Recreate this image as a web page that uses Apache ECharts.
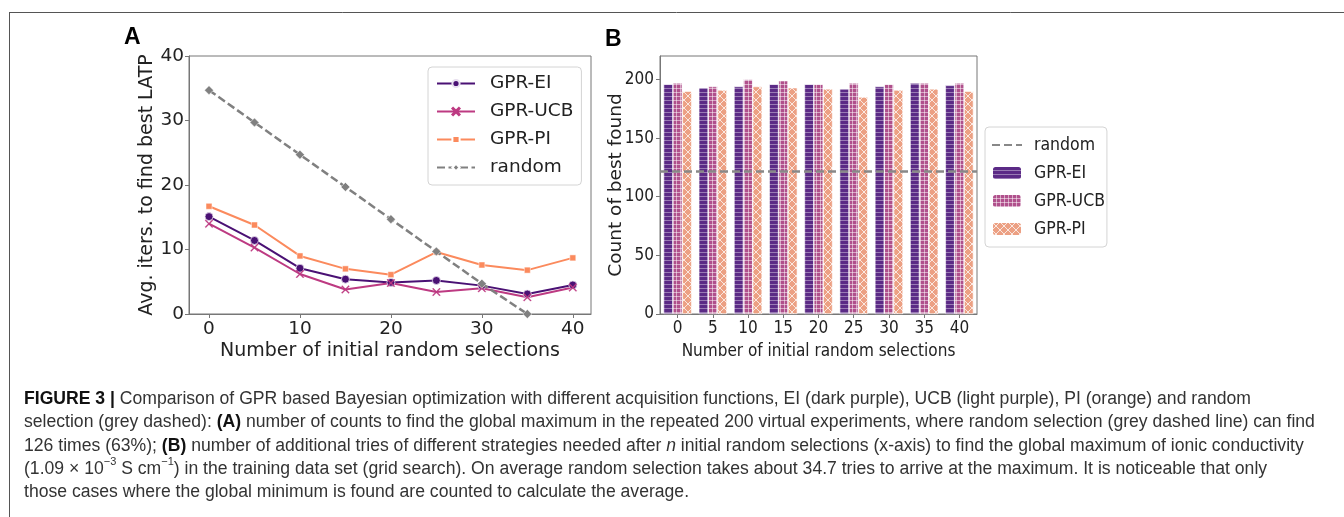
<!DOCTYPE html>
<html><head><meta charset="utf-8">
<script src="https://cdn.jsdelivr.net/npm/echarts@6/dist/echarts.min.js"></script>
<style>html,body{margin:0;padding:0;background:#fff}#c{width:1344px;height:517px}</style>
</head><body><div id="c"></div>
<script>
// ---------- data ----------
const xSelections = [0, 5, 10, 15, 20, 25, 30, 35, 40];
const avgEI     = [15.1, 11.4, 7.1, 5.4, 4.9, 5.2, 4.4, 3.1, 4.5];
const avgUCB    = [14.0, 10.3, 6.2, 3.8, 4.8, 3.4, 4.0, 2.6, 4.1];
const avgPI     = [16.7, 13.8, 9.0, 7.0, 6.1, 9.6, 7.6, 6.8, 8.7];
const avgRandom = [34.7, 29.7, 24.7, 19.7, 14.7, 9.7, 4.7, 0];
const xTicksA = [0, 10, 20, 30, 40];
const yTicksA = [0, 10, 20, 30, 40];

const countCategories = ['0', '5', '10', '15', '20', '25', '30', '35', '40'];
const countEI  = [196, 193, 194, 196, 196, 192, 194, 197, 195];
const countUCB = [197, 194, 200, 199, 196, 197, 196, 197, 197];
const countPI  = [190, 191, 194, 193, 192, 185, 191, 192, 190];
const randomCount = 122;
const yTicksB = [0, 50, 100, 150, 200];

const captionLines = [
  '{b|FIGURE 3 |} Comparison of GPR based Bayesian optimization with different acquisition functions, EI (dark purple), UCB (light purple), PI (orange) and random',
  'selection (grey dashed): {b|(A)} number of counts to find the global maximum in the repeated 200 virtual experiments, where random selection (grey dashed line) can find',
  '126 times (63%); {b|(B)} number of additional tries of different strategies needed after {i|n} initial random selections (x-axis) to find the global maximum of ionic conductivity',
  '(1.09 × 10{s|−3} S cm{s|−1}) in the training data set (grid search). On average random selection takes about 34.7 tries to arrive at the maximum. It is noticeable that only',
  'those cases where the global minimum is found are counted to calculate the average.'
];

// ---------- helpers ----------
function pair(xs, ys) { return ys.map((v, i) => [xs[i], v]); }
function makePattern(w, h, base, draw) {
  const c = document.createElement('canvas'); c.width = w; c.height = h;
  const g = c.getContext('2d'); g.fillStyle = base; g.fillRect(0, 0, w, h); draw(g);
  return { image: c, repeat: 'repeat' };
}
const patEI = makePattern(4, 4, '#5b2a86', g => { g.fillStyle = 'rgba(255,255,255,0.38)'; g.fillRect(0, 0, 4, 1); });
const patUCB = makePattern(4, 4, '#b0508c', g => { g.fillStyle = 'rgba(255,255,255,0.5)'; g.fillRect(0, 0, 4, 1); g.fillRect(0, 0, 1, 4); });
const patPI = makePattern(8, 8, '#eca083', g => {
  g.strokeStyle = 'rgba(255,255,255,0.75)'; g.lineWidth = 1;
  g.beginPath(); g.moveTo(0, 0); g.lineTo(8, 8); g.moveTo(8, 0); g.lineTo(0, 8); g.stroke();
});

const FONT = 'DejaVu Sans';
const FONTB = '"DejaVu Sans Condensed", "DejaVu Sans"';
const CAP = '"Liberation Sans", Arial, sans-serif';
const CAPSIZE = 17.6;
const xMark = 'path://M1,0 L5,4 L9,0 L10,1 L6,5 L10,9 L9,10 L5,6 L1,10 L0,9 L4,5 L0,1 Z';
const axisGrey = '#777';

const chart = echarts.init(document.getElementById('c'), null, { renderer: 'canvas' });

const captionGraphics = captionLines.map((t, i) => ({
  type: 'text', x: 24, y: 399 + i * 23.4, silent: true,
  style: {
    text: t, verticalAlign: 'middle', fill: '#333',
    font: CAPSIZE + 'px ' + CAP, lineHeight: 26,
    rich: {
      b: { fontWeight: 'bold', fontFamily: CAP, fontSize: CAPSIZE, fill: '#111', lineHeight: 26 },
      i: { fontStyle: 'italic', fontFamily: CAP, fontSize: CAPSIZE, fill: '#333', lineHeight: 26 },
      s: { fontFamily: CAP, fontSize: 11, fill: '#333', verticalAlign: 'top', lineHeight: 11 }
    }
  }
}));

chart.setOption({
  animation: false,
  backgroundColor: '#fff',
  grid: [
    { left: 189, top: 56, width: 402, height: 258, show: true, borderColor: axisGrey, borderWidth: 1, backgroundColor: 'transparent' },
    { left: 660, top: 56, width: 317, height: 258, show: true, borderColor: axisGrey, borderWidth: 1, backgroundColor: 'transparent' }
  ],
  xAxis: [
    {
      gridIndex: 0, type: 'value', min: -2.2, max: 42, position: 'bottom',
      axisLine: { show: true, onZero: false, lineStyle: { color: axisGrey } }, splitLine: { show: false },
      axisTick: { show: true, length: 4, lineStyle: { color: axisGrey }, customValues: xTicksA },
      axisLabel: { customValues: xTicksA, fontFamily: FONT, fontSize: 18.5, color: '#222', margin: 6 },
      name: 'Number of initial random selections', nameLocation: 'middle', nameGap: 28, nameMoveOverlap: false,
      nameTextStyle: { fontFamily: FONT, fontSize: 19, color: '#222' }
    },
    {
      gridIndex: 1, type: 'category', data: countCategories, boundaryGap: true, position: 'bottom',
      axisLine: { show: true, onZero: false, lineStyle: { color: axisGrey } }, splitLine: { show: false },
      axisTick: { show: true, alignWithLabel: true, length: 4, lineStyle: { color: axisGrey } },
      axisLabel: { fontFamily: FONTB, fontSize: 17, color: '#222', margin: 6 },
      name: 'Number of initial random selections', nameLocation: 'middle', nameGap: 29, nameMoveOverlap: false,
      nameTextStyle: { fontFamily: FONTB, fontSize: 17, color: '#222' }
    }
  ],
  yAxis: [
    {
      gridIndex: 0, type: 'value', min: 0, max: 40, interval: 10, position: 'left',
      axisLine: { show: true, onZero: false, lineStyle: { color: axisGrey } }, splitLine: { show: false },
      axisTick: { show: true, length: 4, lineStyle: { color: axisGrey }, customValues: yTicksA },
      axisLabel: { customValues: yTicksA, fontFamily: FONT, fontSize: 18.5, color: '#222', margin: 5 },
      name: 'Avg. iters. to find best LATP', nameLocation: 'middle', nameGap: 32, nameMoveOverlap: false,
      nameTextStyle: { fontFamily: FONT, fontSize: 19, color: '#222' }
    },
    {
      gridIndex: 1, type: 'value', min: 0, max: 220, position: 'left',
      axisLine: { show: true, onZero: false, lineStyle: { color: axisGrey } }, splitLine: { show: false },
      axisTick: { show: true, length: 4, lineStyle: { color: axisGrey }, customValues: yTicksB },
      axisLabel: { customValues: yTicksB, fontFamily: FONTB, fontSize: 17, color: '#222', margin: 6 },
      name: 'Count of best found', nameLocation: 'middle', nameGap: 34, nameMoveOverlap: false,
      nameTextStyle: { fontFamily: FONT, fontSize: 18.5, color: '#222' }
    }
  ],
  legend: [
    {
      data: ['GPR-EI', 'GPR-UCB', 'GPR-PI', 'random'], orient: 'vertical',
      left: 428, top: 67, padding: [7, 8, 8, 8], itemGap: 9, itemWidth: 38, itemHeight: 9,
      backgroundColor: 'rgba(255,255,255,0.85)', borderColor: '#d4d4d4', borderWidth: 1, borderRadius: 4,
      textStyle: { fontFamily: FONT, fontSize: 18.5, color: '#222', padding: [0, 0, 0, 10] },
      selectedMode: false
    },
    {
      data: [{ name: 'random (B)', itemStyle: { opacity: 0 } }, 'GPR-EI (B)', 'GPR-UCB (B)', 'GPR-PI (B)'], orient: 'vertical',
      left: 985, top: 127, padding: [9, 2, 9, 6], itemGap: 10, itemWidth: 30, itemHeight: 14,
      backgroundColor: '#fff', borderColor: '#d4d4d4', borderWidth: 1, borderRadius: 4,
      formatter: n => n.replace(' (B)', ''),
      textStyle: { fontFamily: FONTB, fontSize: 17.5, color: '#222', padding: [0, 0, 0, 7] },
      selectedMode: false
    }
  ],
  series: [
    {
      name: 'GPR-EI', type: 'line', xAxisIndex: 0, yAxisIndex: 0, data: pair(xSelections, avgEI),
      symbol: 'circle', symbolSize: 8, showAllSymbol: true,
      lineStyle: { color: '#4a1174', width: 2 }, itemStyle: { color: '#4a1174', borderColor: '#e8e0ef', borderWidth: 0.8 }
    },
    {
      name: 'GPR-UCB', type: 'line', xAxisIndex: 0, yAxisIndex: 0, data: pair(xSelections, avgUCB),
      symbol: xMark, symbolSize: 8, showAllSymbol: true,
      lineStyle: { color: '#bd3a82', width: 2 }, itemStyle: { color: '#bd3a82', borderColor: '#bd3a82', borderWidth: 0.3 }
    },
    {
      name: 'GPR-PI', type: 'line', xAxisIndex: 0, yAxisIndex: 0, data: pair(xSelections, avgPI),
      symbol: 'rect', symbolSize: 6, showAllSymbol: true,
      lineStyle: { color: '#fb8a5d', width: 2 }, itemStyle: { color: '#fb8a5d', borderColor: '#fff', borderWidth: 0.5 }
    },
    {
      name: 'random', type: 'line', xAxisIndex: 0, yAxisIndex: 0, data: pair(xSelections, avgRandom),
      symbol: 'diamond', symbolSize: 9, showAllSymbol: true, z: 5,
      lineStyle: { color: '#808080', width: 2.5, type: [8, 3.5] }, itemStyle: { color: '#808080', borderColor: '#fff', borderWidth: 0.5 }
    },
    {
      name: 'GPR-EI (B)', type: 'bar', xAxisIndex: 1, yAxisIndex: 1, data: countEI,
      barGap: '0%', barCategoryGap: '20%', itemStyle: { color: patEI, borderColor: '#fff', borderWidth: 0.6 }
    },
    {
      name: 'GPR-UCB (B)', type: 'bar', xAxisIndex: 1, yAxisIndex: 1, data: countUCB,
      barGap: '0%', barCategoryGap: '20%', itemStyle: { color: patUCB, borderColor: '#fff', borderWidth: 0.6 }
    },
    {
      name: 'GPR-PI (B)', type: 'bar', xAxisIndex: 1, yAxisIndex: 1, data: countPI,
      barGap: '0%', barCategoryGap: '20%', itemStyle: { color: patPI, borderColor: '#fff', borderWidth: 0.6 }
    },
    {
      name: 'random (B)', type: 'line', xAxisIndex: 1, yAxisIndex: 1, data: [], symbol: 'none', z: 6,
      lineStyle: { color: '#888', width: 2.5, type: [8, 4] },
      itemStyle: { color: '#888' },
      markLine: {
        silent: true, symbol: 'none', label: { show: false }, animation: false,
        lineStyle: { color: '#888', width: 2.5, type: [8, 4] },
        data: [{ yAxis: randomCount }]
      }
    }
  ],
  graphic: [
    { type: 'line', silent: true, shape: { x1: 9, y1: 12.5, x2: 1344, y2: 12.5 }, style: { stroke: '#555', lineWidth: 1 } },
    { type: 'line', silent: true, shape: { x1: 9.5, y1: 12, x2: 9.5, y2: 517 }, style: { stroke: '#555', lineWidth: 1 } },
    { type: 'text', x: 124, y: 38, silent: true, style: { text: 'A', font: 'bold 23px ' + CAP, fill: '#000', verticalAlign: 'middle' } },
    { type: 'text', x: 605, y: 40, silent: true, style: { text: 'B', font: 'bold 23px ' + CAP, fill: '#000', verticalAlign: 'middle' } }
  ].concat(captionGraphics)
});
</script>
</body></html>
